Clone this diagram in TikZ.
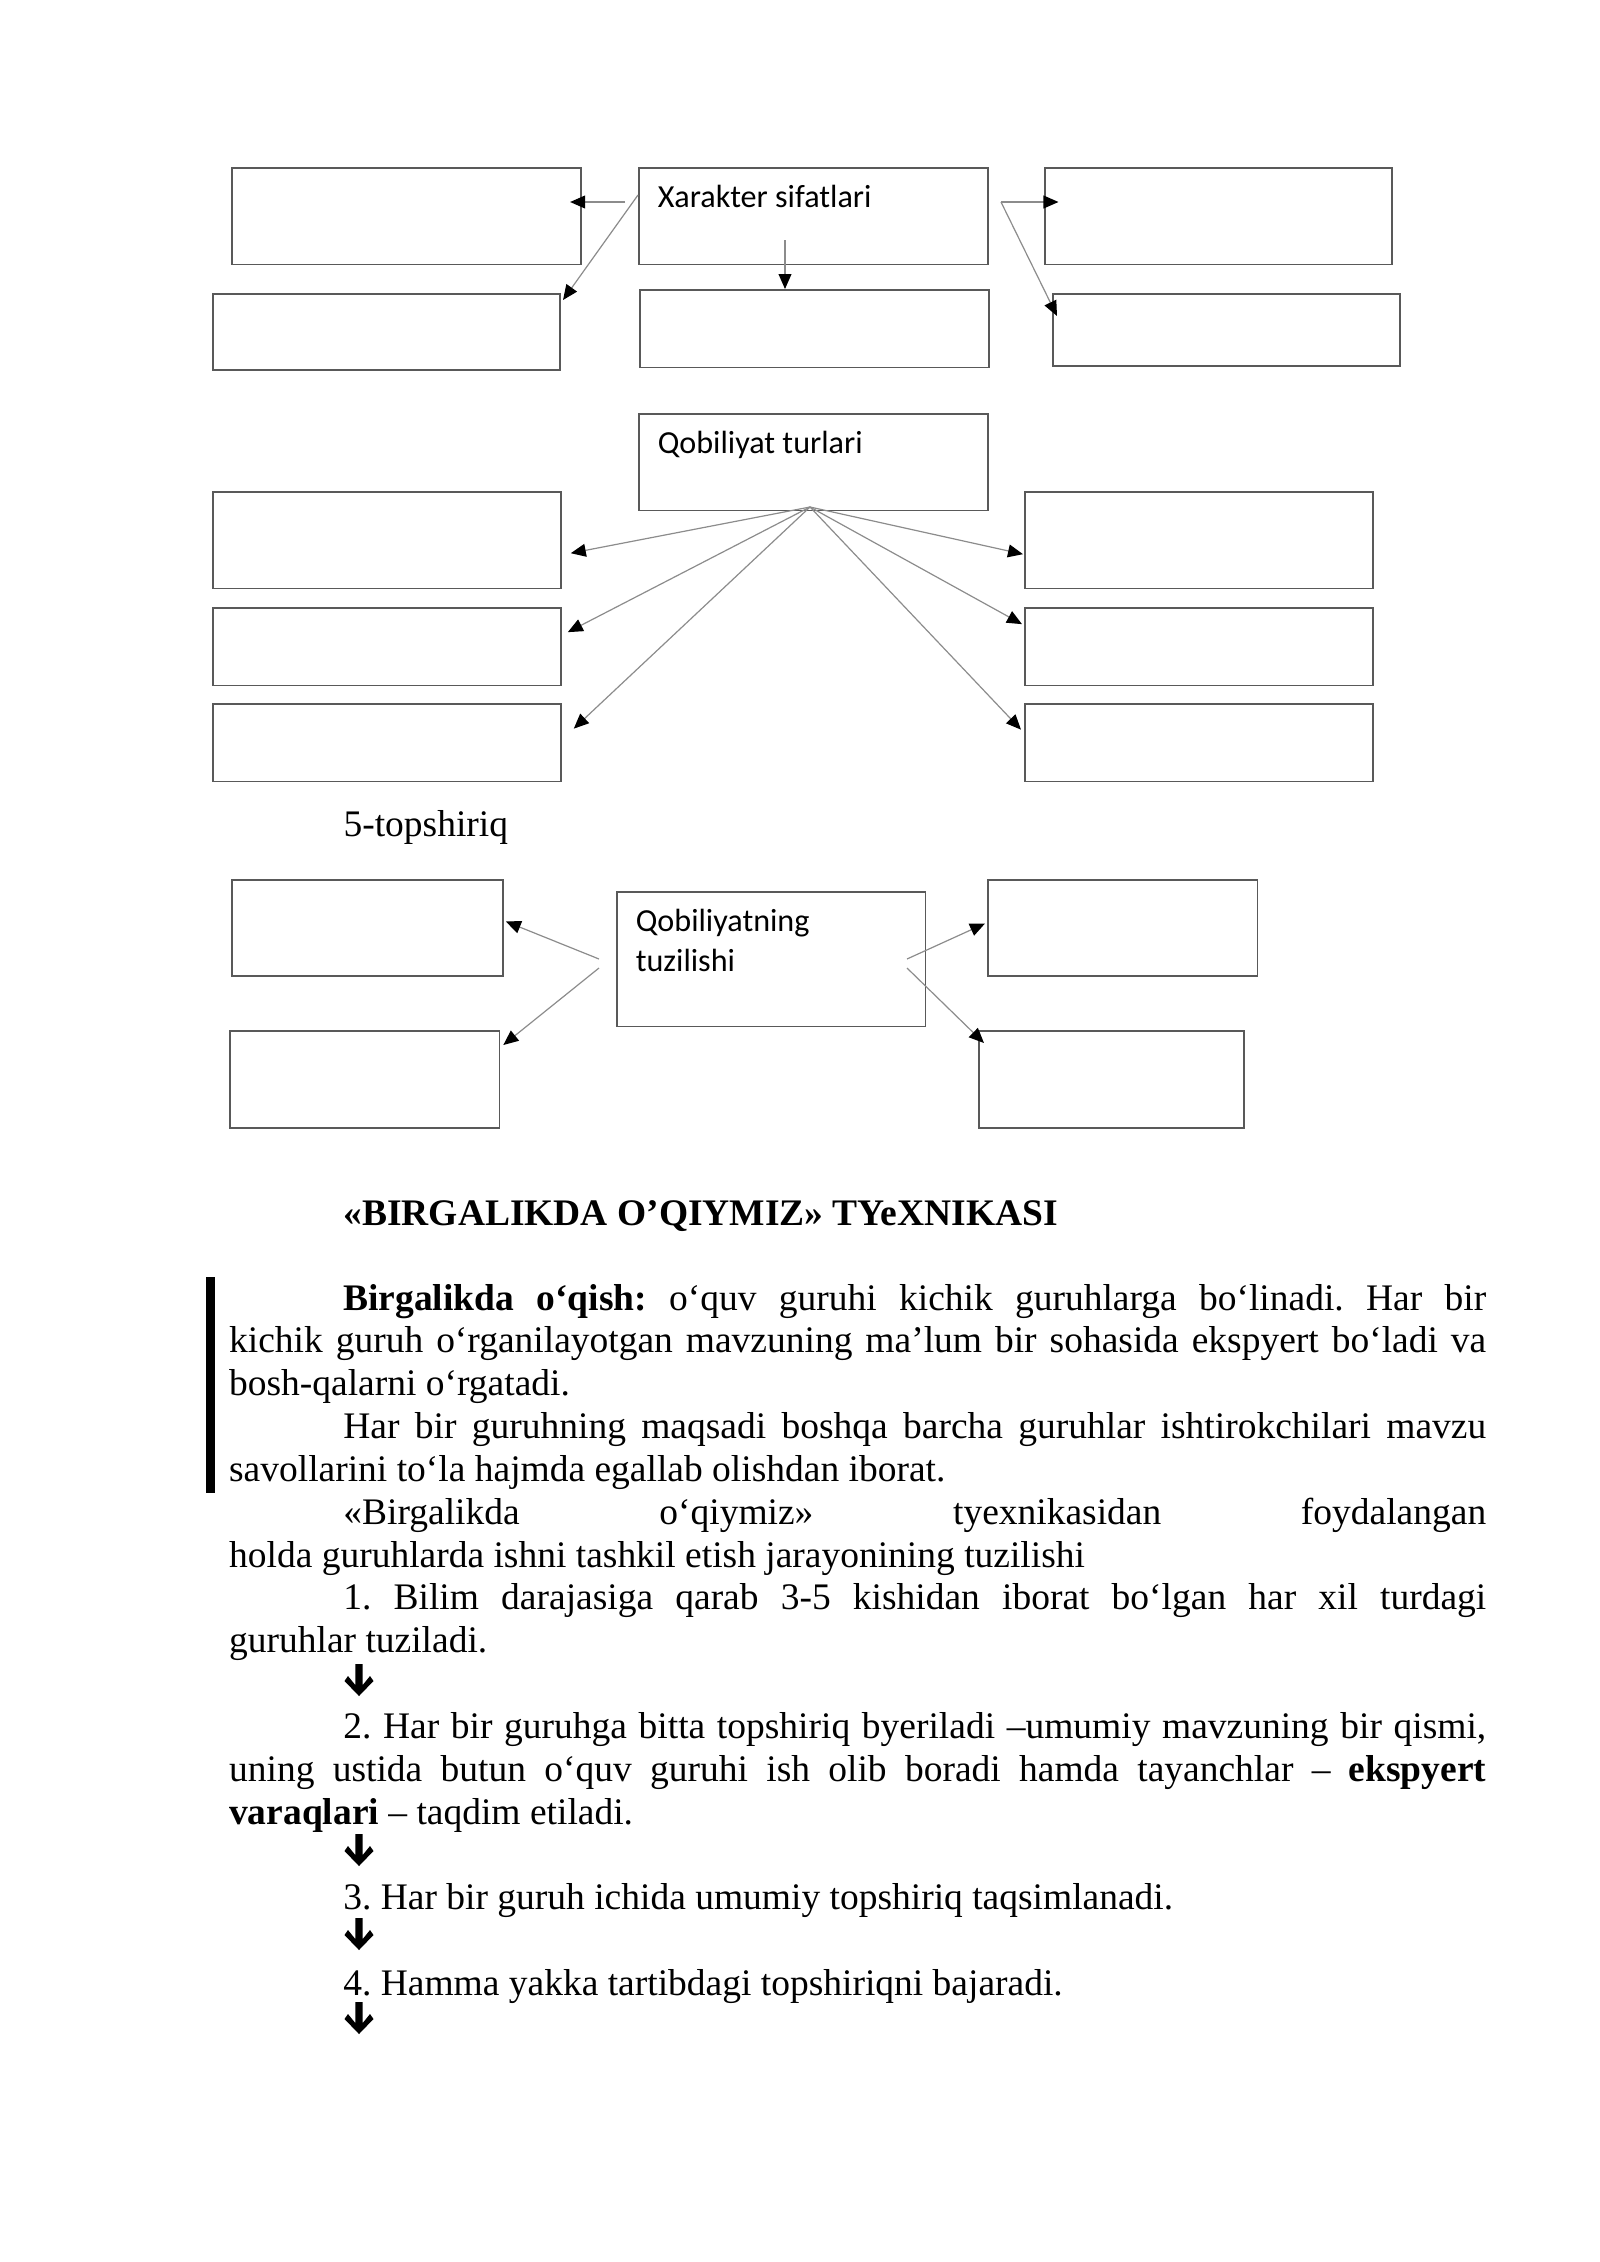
\documentclass[tikz,border=0pt]{standalone}
\usepackage{fontspec}
\setmainfont{Liberation Serif}
\newfontfamily\boxfont{Carlito}
\usetikzlibrary{arrows.meta}
\def\heavyarrow(#1,#2){\fill[black, shift={(#1,#2)}] (-3.7,0) -- (3.7,0) -- (3.7,21) -- (11,12) -- (14.5,17) -- (0,32) -- (-14.5,17) -- (-11,12) -- (-3.7,21) -- cycle;}

\tikzset{
	cbox/.style={draw=black!65, line width=0.6pt, inner sep=0pt, anchor=north west},
	btxt/.style={anchor=north west, font=\boxfont\fontsize{12pt}{14.65pt}\selectfont, inner xsep=7.2pt, inner ysep=3.6pt, text height=11.5pt},
	conn/.style={draw=black!45, line width=0.45pt, -{Triangle[length=5.6pt,width=4.8pt,color=black]}},
	ptxt/.style={anchor=base west, inner sep=0pt, font=\fontsize{14pt}{16pt}\selectfont}
}

\begin{document}
\begin{tikzpicture}[x=0.13125mm, y=-0.13125mm]
		\useasboundingbox (0,0) rectangle (1600,2262);
		
		%%%%% XARAKTER %%%%%
		\node[cbox, minimum width=4.58cm, minimum height=1.27cm] (xs) at (638,167) {};
		\node[btxt] (xst) at (xs.north west) {Xarakter sifatlari};
		\node[cbox, minimum width=4.58cm, minimum height=1.27cm] (a1) at (231,167) {};
		\node[cbox, minimum width=4.56cm, minimum height=1.27cm] (c1) at (1044,167) {};
		\node[cbox, minimum width=4.56cm, minimum height=1.00cm] (a2) at (212,293) {};
		\node[cbox, minimum width=4.58cm, minimum height=1.02cm] (b2) at (639,289) {};
		\node[cbox, minimum width=4.56cm, minimum height=0.95cm] (c2) at (1052,293) {};
		
		\coordinate (xsl) at (625,202);
		\coordinate (xsd) at (638,195);
		\coordinate (xsb) at (785,240);
		\coordinate (xsr) at (1001,202);
		\draw[conn, shorten >=-1.5mm] (xsl) -- (xsl -| a1.east);
		\draw[conn] (xsd) -- ([shift={(2,7)}]a2.north east);
		\draw[conn] (xsb) -- (xsb |- b2.north);
		\draw[conn, shorten >=-1.9mm] (xsr) -- (xsr -| c1.west);
		\draw[conn] (xsr) -- ([shift={(5,23)}]c2.north west);
		
		%%%%% QOBILIYAT TURLARI %%%%%
		\node[cbox, minimum width=4.58cm, minimum height=1.27cm] (qt) at (638,413) {};
		\node[btxt] (qtt) at (qt.north west) {Qobiliyat turlari};
		\node[cbox, minimum width=4.57cm, minimum height=1.27cm] (l1) at (212,491) {};
		\node[cbox, minimum width=4.57cm, minimum height=1.02cm] (l2) at (212,607) {};
		\node[cbox, minimum width=4.57cm, minimum height=1.02cm] (l3) at (212,703) {};
		\node[cbox, minimum width=4.57cm, minimum height=1.27cm] (r1) at (1024,491) {};
		\node[cbox, minimum width=4.57cm, minimum height=1.02cm] (r2) at (1024,607) {};
		\node[cbox, minimum width=4.57cm, minimum height=1.02cm] (r3) at (1024,703) {};
		
		\coordinate (qto) at (810,507);
		\draw[conn] (qto) -- ([shift={(9,13)}]l1.east);
		\draw[conn] (qto) -- ([shift={(6,-14.5)}]l2.east);
		\draw[conn] (qto) -- ([shift={(12,-14)}]l3.east);
		\draw[conn] (qto) -- ([shift={(-1,14)}]r1.west);
		\draw[conn] (qto) -- ([shift={(-2,-22.5)}]r2.west);
		\draw[conn] (qto) -- ([shift={(-3,-13)}]r3.west);
		
		%%%%% 5-TOPSHIRIQ %%%%%
		\node[ptxt] (task) at (343,836) {5-topshiriq};
		\node[cbox, minimum width=4.05cm, minimum height=1.77cm] (qz) at (616,891) {};
		\node[btxt, text width=3.5cm] (qzt) at (qz.north west) {Qobiliyatning\\tuzilishi};
		\node[cbox, minimum width=3.56cm, minimum height=1.265cm] (m1) at (231,879) {};
		\node[cbox, minimum width=3.54cm, minimum height=1.277cm] (m2) at (229,1030) {};
		\node[cbox, minimum width=3.54cm, minimum height=1.265cm] (n1) at (987,879) {};
		\node[cbox, minimum width=3.48cm, minimum height=1.277cm] (n2) at (978,1030) {};
		
		\coordinate (qzl1) at (599,959);
		\coordinate (qzl2) at (599,968);
		\coordinate (qzr1) at (907,959);
		\coordinate (qzr2) at (907,968);
		\draw[conn] (qzl1) -- ([shift={(2,-6.5)}]m1.east);
		\draw[conn] (qzl2) -- ([shift={(3,15)}]m2.north east);
		\draw[conn] (qzr1) -- ([shift={(-2,-4.5)}]n1.west);
		\draw[conn] (qzr2) -- ([shift={(6,13)}]n2.north west);
		
		%%%%% MATN %%%%%
		\node[ptxt, font=\bfseries\fontsize{14pt}{16pt}\selectfont] (title) at (343,1225) {«BIRGALIKDA O’QIYMIZ» TYeXNIKASI};
		\fill[black] (206,1277) rectangle (215,1493);
		\node[ptxt, text width=16.5cm, align=justify] (body) at (228.6,1310) {%
			\parindent=1.5cm \tolerance=9999 \hyphenpenalty=10000 \exhyphenpenalty=10000 \frenchspacing
			\hspace*{\parindent}\textbf{Birgalikda o‘qish:} o‘quv guruhi kichik guruhlarga bo‘linadi. Har bir\linebreak
			kichik guruh o‘rganilayotgan mavzuning ma’lum bir sohasida ekspyert bo‘ladi va\linebreak
			bosh-qalarni o‘rgatadi.\par
			Har bir guruhning maqsadi boshqa barcha guruhlar ishtirokchilari mavzu\linebreak
			savollarini to‘la hajmda egallab olishdan iborat.\par
			«Birgalikda o‘qiymiz» tyexnikasidan foydalangan\linebreak
			holda guruhlarda ishni tashkil etish jarayonining tuzilishi\par
			1. Bilim darajasiga qarab 3-5 kishidan iborat bo‘lgan har xil turdagi\linebreak
			guruhlar tuziladi.\par
			\mbox{}\par
			2. Har bir guruhga bitta topshiriq byeriladi –umumiy mavzuning bir qismi,\linebreak
			uning ustida butun o‘quv guruhi ish olib boradi hamda tayanchlar – \textbf{ekspyert}\linebreak
			\textbf{varaqlari} – taqdim etiladi.\par
			\mbox{}\par
			3. Har bir guruh ichida umumiy topshiriq taqsimlanadi.\par
			\mbox{}\par
			4. Hamma yakka tartibdagi topshiriqni bajaradi.};
		
		\heavyarrow(359,1664)
		\heavyarrow(359,1834)
		\heavyarrow(359,1918)
		\heavyarrow(359,2002)
		
		%%%%% END %%%%%
	\end{tikzpicture}
\end{document}
